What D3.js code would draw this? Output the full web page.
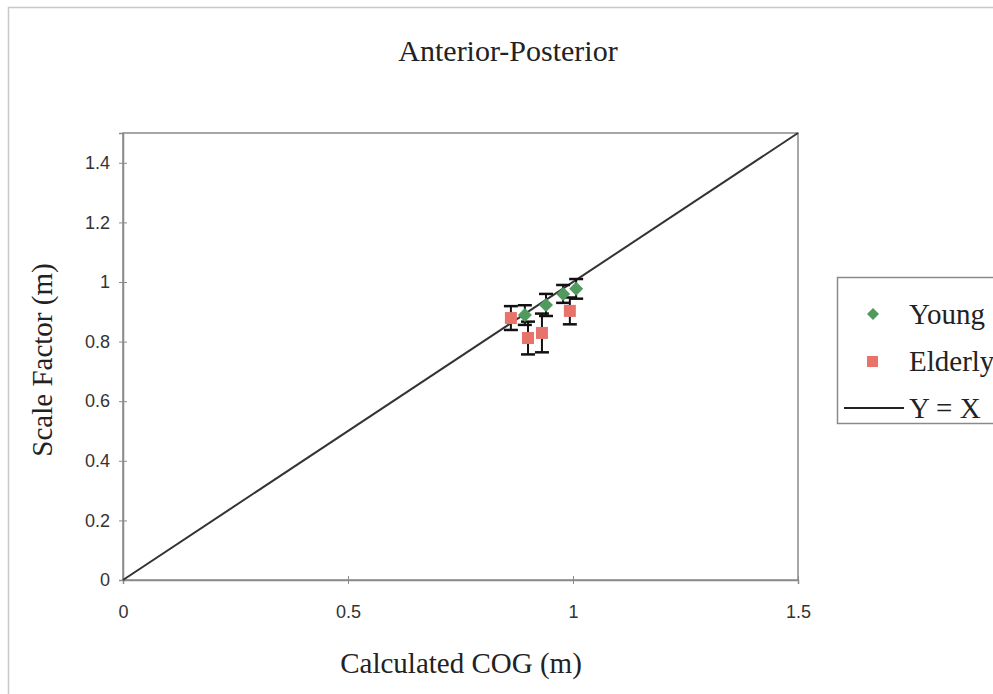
<!DOCTYPE html>
<html>
<head>
<meta charset="utf-8">
<script src="https://cdnjs.cloudflare.com/ajax/libs/d3/7.8.5/d3.min.js"></script>
<style>
  body { margin: 0; background: #fff; }
  svg { display: block; }
</style>
</head>
<body>
<svg id="chart" width="993" height="694"></svg>
<script>
// data
var youngX = [0.893, 0.940, 0.978, 1.007];
var youngY = [0.889, 0.923, 0.960, 0.977];
var youngErr = [0.033, 0.037, 0.030, 0.033];

var elderlyX = [0.862, 0.900, 0.931, 0.993];
var elderlyY = [0.879, 0.812, 0.829, 0.903];
var elderlyErr = [0.040, 0.055, 0.065, 0.045];

var xTicks = [0, 0.5, 1, 1.5];
var yTicks = [0, 0.2, 0.4, 0.6, 0.8, 1, 1.2, 1.4];
var lineXY = [0, 1.5];

var svg = d3.select("#chart");

// outer frame
svg.append("rect")
    .attr("x", 8.5).attr("y", 7.5)
    .attr("width", 1000).attr("height", 700)
    .style("fill", "none").style("stroke", "#c8c8c8").style("stroke-width", 1.5);

var x = d3.scaleLinear().domain([0, 1.5]).range([123, 798]);
var y = d3.scaleLinear().domain([0, 1.5]).range([580, 133]);

// plot area border
svg.append("rect")
    .attr("x", x(0)).attr("y", y(1.5))
    .attr("width", x(1.5) - x(0)).attr("height", y(0) - y(1.5))
    .style("fill", "none").style("stroke", "#8a8a8a").style("stroke-width", 1.5);

// axes
var xAxis = svg.append("g")
    .attr("transform", "translate(0," + y(0) + ")")
    .call(d3.axisBottom(x).tickValues(xTicks).tickSize(4).tickFormat(d3.format("")));
xAxis.selectAll("line").attr("y1", -4).style("stroke", "#8a8a8a");
xAxis.select(".domain").style("stroke", "#8a8a8a").style("stroke-width", 1.5);
xAxis.selectAll("text")
    .attr("dy", "1.7em")
    .style("font-family", "Liberation Sans, Arial, sans-serif")
    .style("font-size", "18px").style("fill", "#333");

var yAxis = svg.append("g")
    .attr("transform", "translate(" + x(0) + ",0)")
    .call(d3.axisLeft(y).tickValues(yTicks).tickSize(4).tickFormat(d3.format("")));
yAxis.selectAll("line").attr("x1", 4).style("stroke", "#8a8a8a");
yAxis.select(".domain").style("stroke", "#8a8a8a").style("stroke-width", 1.5);
yAxis.selectAll("text")
    .attr("x", -13)
    .style("font-family", "Liberation Sans, Arial, sans-serif")
    .style("font-size", "18px").style("fill", "#333");

// Y = X line
svg.append("line")
    .attr("x1", x(lineXY[0])).attr("y1", y(lineXY[0]))
    .attr("x2", x(lineXY[1])).attr("y2", y(lineXY[1]))
    .style("stroke", "#333").style("stroke-width", 2);

function errorBars(xs, ys, errs) {
    var g = svg.append("g");
    xs.forEach(function(xv, i) {
        var cx = x(xv), lo = y(ys[i] - errs[i]), hi = y(ys[i] + errs[i]);
        g.append("line").attr("x1", cx).attr("x2", cx).attr("y1", lo).attr("y2", hi)
            .style("stroke", "#111").style("stroke-width", 2);
        [lo, hi].forEach(function(yy) {
            g.append("line").attr("x1", cx - 7).attr("x2", cx + 7).attr("y1", yy).attr("y2", yy)
                .style("stroke", "#111").style("stroke-width", 2.5);
        });
    });
}

errorBars(elderlyX, elderlyY, elderlyErr);
errorBars(youngX, youngY, youngErr);

// elderly squares
svg.append("g").selectAll("rect")
    .data(elderlyX)
    .enter().append("rect")
    .attr("x", function(d) { return x(d) - 6; })
    .attr("y", function(d, i) { return y(elderlyY[i]) - 6; })
    .attr("width", 12).attr("height", 12)
    .style("fill", "#e8736b");

// young diamonds
svg.append("g").selectAll("path")
    .data(youngX)
    .enter().append("path")
    .attr("d", "M0,-7L7,0L0,7L-7,0Z")
    .attr("transform", function(d, i) { return "translate(" + x(d) + "," + y(youngY[i]) + ")"; })
    .style("fill", "#4f9a5c");

// titles
var serif = "Liberation Serif, Times New Roman, serif";
svg.append("text")
    .attr("x", 508).attr("y", 61)
    .attr("text-anchor", "middle")
    .style("font-family", serif).style("font-size", "30px").style("fill", "#222")
    .text("Anterior-Posterior");

svg.append("text")
    .attr("x", 461).attr("y", 673)
    .attr("text-anchor", "middle")
    .style("font-family", serif).style("font-size", "29px").style("fill", "#222")
    .text("Calculated COG (m)");

svg.append("text")
    .attr("transform", "translate(52,360) rotate(-90)")
    .attr("text-anchor", "middle")
    .style("font-family", serif).style("font-size", "29px").style("fill", "#222")
    .text("Scale Factor (m)");

// legend
var legend = svg.append("g");
legend.append("rect")
    .attr("x", 837.5).attr("y", 277.5)
    .attr("width", 200).attr("height", 146)
    .style("fill", "#fff").style("stroke", "#8a8a8a").style("stroke-width", 1.5);

legend.append("path")
    .attr("d", "M0,-6L6,0L0,6L-6,0Z")
    .attr("transform", "translate(873,314)")
    .style("fill", "#4f9a5c");
legend.append("rect")
    .attr("x", 867).attr("y", 356).attr("width", 11).attr("height", 11)
    .style("fill", "#e8736b");
legend.append("line")
    .attr("x1", 844).attr("x2", 904).attr("y1", 408).attr("y2", 408)
    .style("stroke", "#222").style("stroke-width", 2);

[["Young", 324], ["Elderly", 371], ["Y = X", 418]].forEach(function(e) {
    legend.append("text")
        .attr("x", 909).attr("y", e[1])
        .style("font-family", serif).style("font-size", "29px").style("fill", "#222")
        .text(e[0]);
});
</script>
</body>
</html>
